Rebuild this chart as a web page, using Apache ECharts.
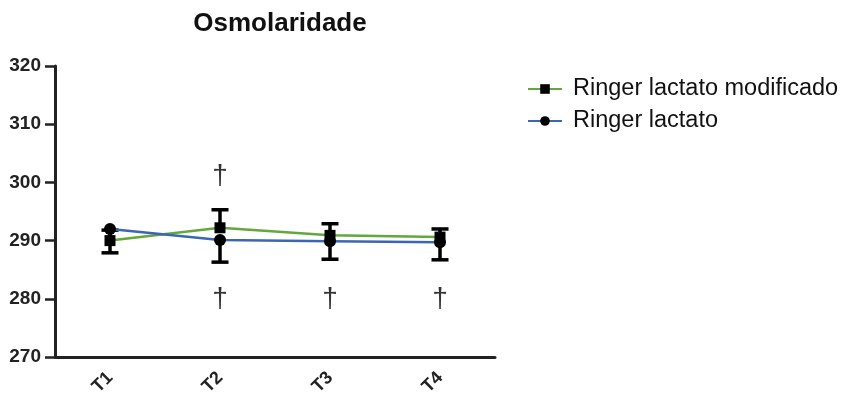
<!DOCTYPE html>
<html>
<head>
<meta charset="utf-8">
<script src="https://cdn.jsdelivr.net/npm/echarts@6/dist/echarts.min.js"></script>
<style>
  html, body { margin: 0; padding: 0; background: #fff; }
  #chart { width: 845px; height: 399px; }
</style>
</head>
<body>
<div id="chart"></div>
<script>
// Osmolality over time, two fluid groups (mean with one-sided SD bars)
const categories = ['T1', 'T2', 'T3', 'T4'];
const yTicks = [270, 280, 290, 300, 310, 320];

const modifiedName = 'Ringer lactato modificado';
const modifiedMean = [290.0, 292.2, 290.9, 290.6];
const modifiedSD   = [1.8, 3.1, 2.0, 1.4];   // drawn upward

const ringerName = 'Ringer lactato';
const ringerMean = [292.0, 290.1, 289.9, 289.7];
const ringerSD   = [4.1, 3.8, 3.1, 3.0];     // drawn downward

// significance markers (†) above / below the groups
const daggerAbove = [null, 301, null, null];
const daggerBelow = [null, 280, 280, 280];

const GREEN = '#62a83a';
const BLUE = '#3a66b4';
const FONT = '"Liberation Sans", Arial, sans-serif';

// direction: +1 draws the bar above the mean, -1 below it
function errorSeries(mean, sd, direction) {
  return {
    type: 'custom',
    silent: true,
    z: 3,
    data: mean.map((m, i) => [i, m, m + direction * sd[i]]),
    renderItem: function (params, api) {
      const x = api.value(0);
      const from = api.coord([x, api.value(1)]);
      const to = api.coord([x, api.value(2)]);
      const half = 8.5;
      const style = { stroke: '#000', lineWidth: 3.5 };
      return {
        type: 'group',
        children: [
          { type: 'line', shape: { x1: from[0], y1: from[1], x2: to[0], y2: to[1] }, style: style },
          { type: 'line', shape: { x1: to[0] - half, y1: to[1], x2: to[0] + half, y2: to[1] }, style: style }
        ]
      };
    }
  };
}

function daggerSeries(values) {
  return {
    type: 'scatter',
    silent: true,
    symbolSize: 0,
    data: values.map((v, i) => (v == null ? null : [i, v])),
    label: {
      show: true,
      position: 'inside',
      formatter: '†',
      color: '#000',
      fontSize: 28,
      fontFamily: FONT
    }
  };
}

const chart = echarts.init(document.getElementById('chart'), null, { renderer: 'canvas' });

chart.setOption({
  animation: false,
  backgroundColor: '#fff',
  title: {
    text: 'Osmolaridade',
    left: 275,
    top: 6,
    textAlign: 'center',
    textStyle: { fontFamily: FONT, fontWeight: 'bold', fontSize: 26, color: '#111' }
  },
  legend: {
    orient: 'vertical',
    left: 522,
    top: 72,
    itemGap: 8,
    itemWidth: 34,
    itemHeight: 12,
    textStyle: { fontFamily: FONT, fontSize: 23.5, color: '#111', padding: [0, 0, 0, 6] },
    data: [modifiedName, ringerName]
  },
  grid: { left: 55, right: 350, top: 66, bottom: 42 },
  xAxis: {
    type: 'category',
    data: categories,
    boundaryGap: true,
    axisLine: { lineStyle: { color: '#222', width: 3 } },
    axisTick: { alignWithLabel: true, length: 8, lineStyle: { color: '#222', width: 2 } },
    axisLabel: {
      rotate: 45,
      margin: 18,
      fontFamily: FONT,
      fontWeight: 'bold',
      fontSize: 18,
      color: '#222'
    },
    splitLine: { show: false }
  },
  yAxis: {
    type: 'value',
    min: yTicks[0],
    max: yTicks[yTicks.length - 1],
    interval: 10,
    axisLine: { show: true, lineStyle: { color: '#222', width: 3 } },
    axisTick: { show: true, length: 10, lineStyle: { color: '#222', width: 2.5 } },
    axisLabel: {
      margin: 14,
      fontFamily: FONT,
      fontWeight: 'bold',
      fontSize: 19,
      color: '#222'
    },
    splitLine: { show: false }
  },
  series: [
    errorSeries(modifiedMean, modifiedSD, 1),
    errorSeries(ringerMean, ringerSD, -1),
    {
      name: modifiedName,
      type: 'line',
      z: 4,
      data: modifiedMean,
      symbol: 'rect',
      symbolSize: 11,
      lineStyle: { color: GREEN, width: 2.5 },
      itemStyle: { color: '#000', borderWidth: 0 },
      color: GREEN
    },
    {
      name: ringerName,
      type: 'line',
      z: 5,
      data: ringerMean,
      symbol: 'circle',
      symbolSize: 12,
      lineStyle: { color: BLUE, width: 2.5 },
      itemStyle: { color: '#000', borderWidth: 0 },
      color: BLUE
    },
    daggerSeries(daggerAbove),
    daggerSeries(daggerBelow)
  ]
});
</script>
</body>
</html>
